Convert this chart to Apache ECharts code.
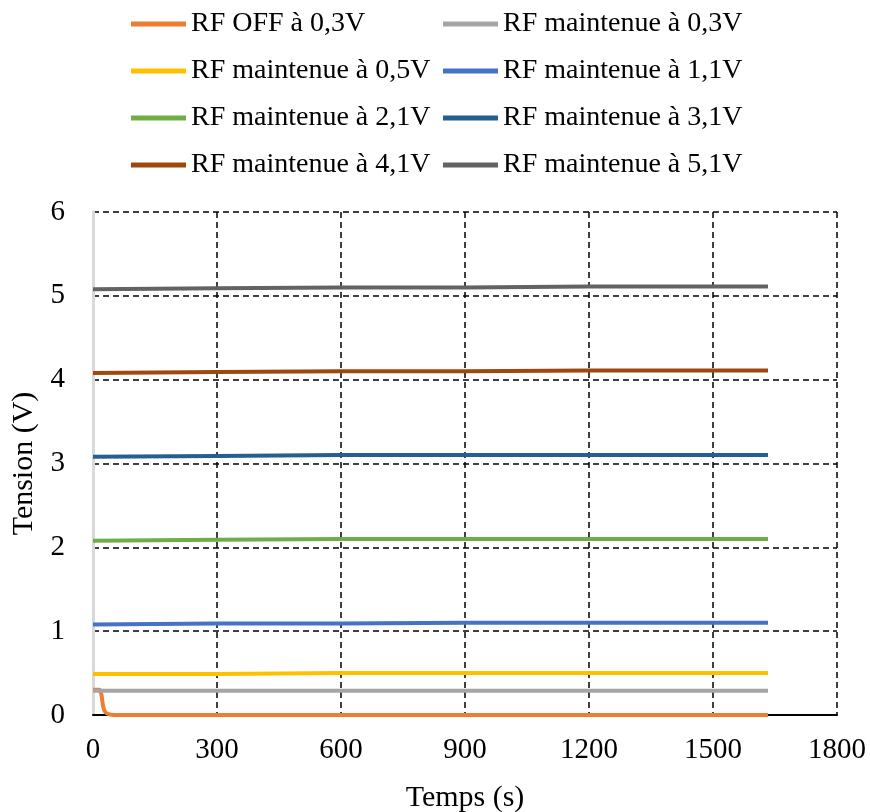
<!DOCTYPE html>
<html>
<head>
<meta charset="utf-8">
<script src="https://cdn.jsdelivr.net/npm/echarts@6/dist/echarts.min.js"></script>
<style>
  html, body { margin: 0; padding: 0; background: #fff; }
  #chart { width: 870px; height: 812px; }
</style>
</head>
<body>
<div id="chart"></div>
<script>
// temps (s) des points
const tFlat = [0, 300, 600, 900, 1200, 1633];
const tOff = [0, 15, 20, 23, 27, 33, 45, 55, 1633];

const rfOff03 = [0.3, 0.3, 0.25, 0.15, 0.06, 0.02, 0.004, 0, 0];
const rf03 = [0.29, 0.29, 0.29, 0.29, 0.29, 0.29];
const rf05 = [0.49, 0.49, 0.50, 0.50, 0.50, 0.50];
const rf11 = [1.08, 1.09, 1.09, 1.10, 1.10, 1.10];
const rf21 = [2.08, 2.09, 2.10, 2.10, 2.10, 2.10];
const rf31 = [3.08, 3.09, 3.10, 3.10, 3.10, 3.10];
const rf41 = [4.08, 4.09, 4.10, 4.10, 4.11, 4.11];
const rf51 = [5.08, 5.09, 5.10, 5.10, 5.11, 5.11];

const names = [
  'RF OFF à 0,3V', 'RF maintenue à 0,3V',
  'RF maintenue à 0,5V', 'RF maintenue à 1,1V',
  'RF maintenue à 2,1V', 'RF maintenue à 3,1V',
  'RF maintenue à 4,1V', 'RF maintenue à 5,1V'
];
const colors = ['#ED7D31', '#A5A5A5', '#FFC000', '#4472C4', '#70AD47', '#255E91', '#9E480E', '#636363'];
const values = [rfOff03, rf03, rf05, rf11, rf21, rf31, rf41, rf51];

const font = 'Liberation Serif';

const pair = (xs, ys) => xs.map((x, i) => [x, ys[i]]);

const series = values.map((v, i) => ({
  name: names[i],
  type: 'line',
  data: pair(i === 0 ? tOff : tFlat, v),
  symbol: 'none',
  smooth: i === 0 ? 0.4 : false,
  lineStyle: { color: colors[i], width: 4 },
  itemStyle: { color: colors[i] },
  z: 3 + i
}));

const legendBase = {
  orient: 'vertical',
  top: 5,
  itemWidth: 55,
  itemHeight: 5,
  itemGap: 19,
  icon: 'rect',
  textStyle: { fontFamily: font, fontSize: 28, color: '#000' }
};

const chart = echarts.init(document.getElementById('chart'));
chart.setOption({
  animation: false,
  backgroundColor: '#fff',
  color: colors,
  legend: [
    Object.assign({}, legendBase, { left: 126, data: names.filter((_, i) => i % 2 === 0) }),
    Object.assign({}, legendBase, { left: 438, data: names.filter((_, i) => i % 2 === 1) })
  ],
  grid: { left: 93, right: 33, top: 212, bottom: 97, outerBoundsMode: 'none', containLabel: false },
  xAxis: {
    type: 'value',
    min: 0, max: 1800, interval: 300,
    name: 'Temps (s)',
    nameLocation: 'middle',
    nameGap: 68,
    nameTextStyle: { fontFamily: font, fontSize: 30, color: '#000' },
    axisLine: { show: true, lineStyle: { color: '#000', width: 2 } },
    axisTick: { show: false },
    axisLabel: { fontFamily: font, fontSize: 29, color: '#000', margin: 21, formatter: v => String(v) },
    splitLine: { show: true, lineStyle: { color: '#000', width: 1.5, type: [6, 4] } }
  },
  yAxis: {
    type: 'value',
    min: 0, max: 6, interval: 1,
    name: 'Tension (V)',
    nameLocation: 'middle',
    nameGap: 48,
    nameTextStyle: { fontFamily: font, fontSize: 30, color: '#000' },
    axisLine: { show: true, lineStyle: { color: '#D9D9D9', width: 3 } },
    axisTick: { show: false },
    axisLabel: { fontFamily: font, fontSize: 29, color: '#000', margin: 28 },
    splitLine: { show: true, lineStyle: { color: '#000', width: 1.5, type: [6, 4] } }
  },
  series: series
});
</script>
</body>
</html>
